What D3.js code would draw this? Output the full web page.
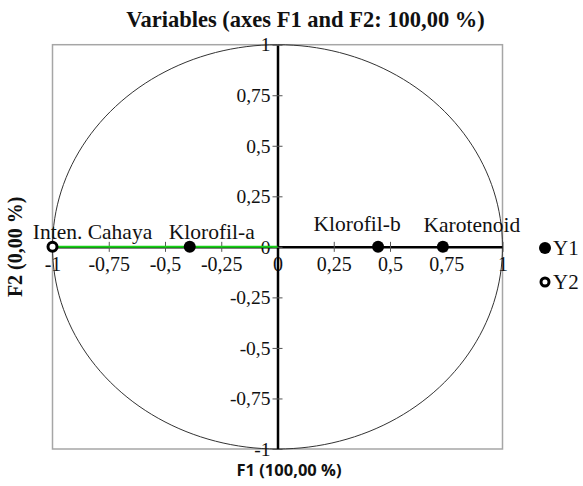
<!DOCTYPE html>
<html>
<head>
<meta charset="utf-8">
<script src="https://cdn.jsdelivr.net/npm/d3@7"></script>
<style>
  body { margin: 0; background: #fff; }
</style>
</head>
<body>
<div id="chart"></div>
<script>
// variables on the F1/F2 correlation circle
const varNames = ['Inten. Cahaya', 'Klorofil-a', 'Klorofil-b', 'Karotenoid'];
const f1Values = [-1, -0.39, 0.447, 0.735];
const f2Values = [0, 0, 0, 0];
const varGroup = ['Y2', 'Y1', 'Y1', 'Y1'];
const tickValues = [-1, -0.75, -0.5, -0.25, 0, 0.25, 0.5, 0.75, 1];
const legendItems = ['Y1', 'Y2'];

const width = 583, height = 486;
const plotLeft = 52.5, plotRight = 502.5, plotTop = 44.7, plotBottom = 449;

const x = d3.scaleLinear().domain([-1, 1]).range([plotLeft, plotRight]);
const y = d3.scaleLinear().domain([-1, 1]).range([plotBottom, plotTop]);

const fmt = v => String(v).replace('.', ',');
const serif = '"Liberation Serif", "Times New Roman", serif';

const svg = d3.select('#chart').append('svg')
  .attr('width', width)
  .attr('height', height)
  .style('font-family', serif);

// plot frame
svg.append('rect')
  .attr('x', plotLeft).attr('y', plotTop)
  .attr('width', plotRight - plotLeft).attr('height', plotBottom - plotTop)
  .attr('fill', 'none')
  .attr('stroke', '#a6a6a6')
  .attr('stroke-width', 1.5);

// correlation circle
const circlePts = d3.range(0, 361, 2).map(a => [Math.cos(a * Math.PI / 180), Math.sin(a * Math.PI / 180)]);
svg.append('path')
  .datum(circlePts)
  .attr('d', d3.line().x(d => x(d[0])).y(d => y(d[1])))
  .attr('fill', 'none')
  .attr('stroke', '#333')
  .attr('stroke-width', 1);

// axes through origin
const xAxis = d3.axisBottom(x).tickValues(tickValues).tickSize(0).tickFormat(fmt);
const yAxis = d3.axisLeft(y).tickValues(tickValues).tickSize(0).tickFormat(fmt);

const gx = svg.append('g').attr('transform', `translate(0,${y(0)})`).call(xAxis);
gx.select('.domain').attr('stroke', '#000').attr('stroke-width', 2.5);
gx.selectAll('.tick text')
  .attr('y', 10)
  .attr('dy', '0.71em')
  .attr('font-family', serif)
  .attr('font-size', 20)
  .attr('fill', '#111');
gx.selectAll('.tick').append('line')
  .attr('y1', -5).attr('y2', 5)
  .attr('stroke', '#555').attr('stroke-width', 1);

const gy = svg.append('g').attr('transform', `translate(${x(0)},0)`).call(yAxis);
gy.select('.domain').attr('stroke', '#000').attr('stroke-width', 2.5);
gy.selectAll('.tick text')
  .attr('x', -7)
  .attr('dy', '0.32em')
  .attr('font-family', serif)
  .attr('font-size', 19.5)
  .attr('fill', '#111');
gy.selectAll('.tick').append('line')
  .attr('x1', -5).attr('x2', 5)
  .attr('stroke', '#555').attr('stroke-width', 1);

// vector for Inten. Cahaya
svg.append('line')
  .attr('x1', x(0)).attr('y1', y(0))
  .attr('x2', x(f1Values[0])).attr('y2', y(f2Values[0]))
  .attr('stroke', '#16d016')
  .attr('stroke-width', 2);

// points
const data = varNames.map((n, i) => ({ name: n, f1: f1Values[i], f2: f2Values[i], g: varGroup[i] }));
svg.selectAll('.pt')
  .data(data)
  .join('circle')
  .attr('class', 'pt')
  .attr('cx', d => x(d.f1))
  .attr('cy', d => y(d.f2))
  .attr('r', d => d.g === 'Y1' ? 6 : 4.5)
  .attr('fill', d => d.g === 'Y1' ? '#000' : '#fff')
  .attr('stroke', '#000')
  .attr('stroke-width', d => d.g === 'Y1' ? 0 : 3);

const labelOffsets = [[40, -8], [22, -8], [-21, -16], [29, -15]];
svg.selectAll('.lbl')
  .data(data)
  .join('text')
  .attr('class', 'lbl')
  .attr('x', (d, i) => x(d.f1) + labelOffsets[i][0])
  .attr('y', (d, i) => y(d.f2) + labelOffsets[i][1])
  .attr('text-anchor', 'middle')
  .attr('font-size', 21.5)
  .attr('fill', '#111')
  .text(d => d.name);

// legend
const lg = svg.selectAll('.lg')
  .data(legendItems)
  .join('g')
  .attr('class', 'lg')
  .attr('transform', (d, i) => `translate(545,${248 + i * 34})`);
lg.append('circle')
  .attr('r', d => d === 'Y1' ? 6 : 4)
  .attr('fill', d => d === 'Y1' ? '#000' : '#fff')
  .attr('stroke', '#000')
  .attr('stroke-width', d => d === 'Y1' ? 0 : 3);
lg.append('text')
  .attr('x', 8)
  .attr('dy', '0.35em')
  .attr('font-size', 21)
  .attr('fill', '#111')
  .text(d => d);

// titles
svg.append('text')
  .attr('x', 305.5).attr('y', 27)
  .attr('text-anchor', 'middle')
  .attr('font-weight', 'bold')
  .attr('font-size', 22.5)
  .attr('fill', '#111')
  .text('Variables (axes F1 and F2: 100,00 %)');

svg.append('text')
  .attr('x', 289).attr('y', 476)
  .attr('text-anchor', 'middle')
  .attr('font-family', '"Open Sans", "DejaVu Sans", sans-serif')
  .attr('font-weight', 'bold')
  .attr('font-size', 16.5)
  .attr('fill', '#111')
  .text('F1 (100,00 %)');

svg.append('text')
  .attr('transform', `translate(22,${y(0)}) rotate(-90)`)
  .attr('text-anchor', 'middle')
  .attr('font-weight', 'bold')
  .attr('font-size', 20)
  .attr('fill', '#111')
  .text('F2 (0,00 %)');
</script>
</body>
</html>
